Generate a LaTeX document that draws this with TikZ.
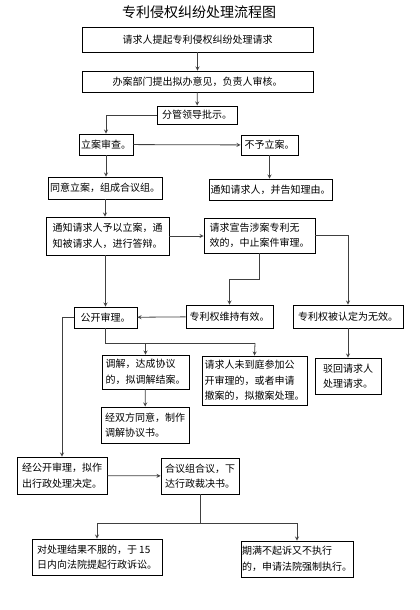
\documentclass[tikz,border=0pt]{standalone}
\usepackage{fontspec}
\newfontfamily\cjk{Noto Sans CJK SC}
\usetikzlibrary{arrows, positioning}

\begin{document}
\begin{tikzpicture}[x=1pt, y=-1pt, >=stealth,
    box/.style = {draw, line width=0.9pt, align=left, inner sep=0pt,
      font=\cjk\fontsize{10}{15.5}\selectfont},
    link/.style = {draw=black!75, line width=0.8pt}]
  \useasboundingbox (0,0) rectangle (420,610);
  \node[font=\cjk\fontsize{14}{16}\selectfont] (title) at (199,12) {专利侵权纠纷处理流程图};
  % request and filing
  \node[box, minimum width=231, minimum height=25] (req) at (197.5,39.5) {请求人提起专利侵权纠纷处理请求};
  \node[box, minimum width=231, minimum height=21] (dept) at (197.5,81.5) {办案部门提出拟办意见，负责人审核。};
  \node[box, minimum width=80, minimum height=18] (lead) at (197,115) {分管领导批示。};
  \node[box, minimum width=54, minimum height=21] (check) at (106,144.5) {立案审查。};
  \node[box, minimum width=57, minimum height=20] (refuse) at (269.5,145) {不予立案。};
  \node[box, minimum width=114, minimum height=22] (accept) at (105,188) {同意立案，组成合议组。};
  \node[box, minimum width=123, minimum height=21] (reason) at (270.5,189.5) {通知请求人，并告知理由。};
  \node[box, minimum width=123, minimum height=38] (notify) at (107.5,236) {通知请求人予以立案，通\\知被请求人，进行答辩。};
  \node[box, minimum width=111, minimum height=35] (invreq) at (259.5,235.5) {请求宣告涉案专利无\\效的，中止案件审理。};
  % invalidation outcome
  \node[box, minimum width=87, minimum height=23] (valid) at (229.5,316.5) {专利权维持有效。};
  \node[box, minimum width=110, minimum height=23] (invalid) at (348,316.5) {专利权被认定为无效。};
  \node[box, minimum width=63, minimum height=21] (hear) at (105.5,317.5) {公开审理。};
  % hearing outcome
  \node[box, minimum width=87, minimum height=34] (mediate) at (145.5,372) {调解，达成协议\\的，拟调解结案。};
  \node[box, minimum width=105, minimum height=49] (withdraw) at (254.5,380.5) {请求人未到庭参加公\\开审理的，或者申请\\撤案的，拟撤案处理。};
  \node[box, minimum width=66, minimum height=36] (dismiss) at (348,376) {驳回请求人\\处理请求。};
  \node[box, minimum width=88, minimum height=36] (agree) at (145,425) {经双方同意，制作\\调解协议书。};
  \node[box, minimum width=90, minimum height=37] (decide) at (62,475.5) {经公开审理，拟作\\出行政处理决定。};
  \node[box, minimum width=78, minimum height=36] (ruling) at (200,476) {合议组合议，下\\达行政裁决书。};
  % after the ruling
  \node[box, minimum width=130, minimum height=36] (sue) at (97,557) {对处理结果不服的，于 15\\日内向法院提起行政诉讼。};
  \node[box, minimum width=112, minimum height=36] (enforce) at (297,559) {期满不起诉又不执行\\的，申请法院强制执行。};
  \coordinate (split) at (255,343);
  \coordinate (fork) at (200,523);

  \draw[link, ->] (req) -- (dept);
  \draw[link, ->] (dept) -- (lead);
  \draw[link, ->] (lead.west) -| (check.north);
  \draw[link, ->] (check) -- (refuse);
  \draw[link, ->] (check) -- (check |- accept.north);
  \draw[link, ->] (refuse) -- (refuse |- reason.north);
  \draw[link, ->] (accept) -- (accept |- notify.north);
  \draw[link, ->] (notify) -- (notify.east -| invreq.west);
  \draw[link, ->] (invreq.east) -| (invalid.north);
  \draw[link, ->] (invreq.south) -- ++(0,26) -| (valid.north);
  \draw[link, ->] (valid) -- (hear);
  \draw[link, ->] (hear.north |- notify.south) -- (hear.north);
  \draw[link, ->] (hear.west) -| (decide.north);
  \draw[link] (hear.south) |- (split);
  \draw[link, ->] (mediate.north |- split) -- (mediate.north);
  \draw[link, ->] (split) -- (withdraw.north);
  \draw[link, ->] (invalid) -- (dismiss);
  \draw[link, ->] (mediate) -- (agree);
  \draw[link, ->] (decide) -- (ruling);
  \draw[link] (ruling) -- (fork);
  \draw[link, ->] (fork) -| (sue.north);
  \draw[link, ->] (fork) -| (enforce.north);
\end{tikzpicture}
\end{document}
